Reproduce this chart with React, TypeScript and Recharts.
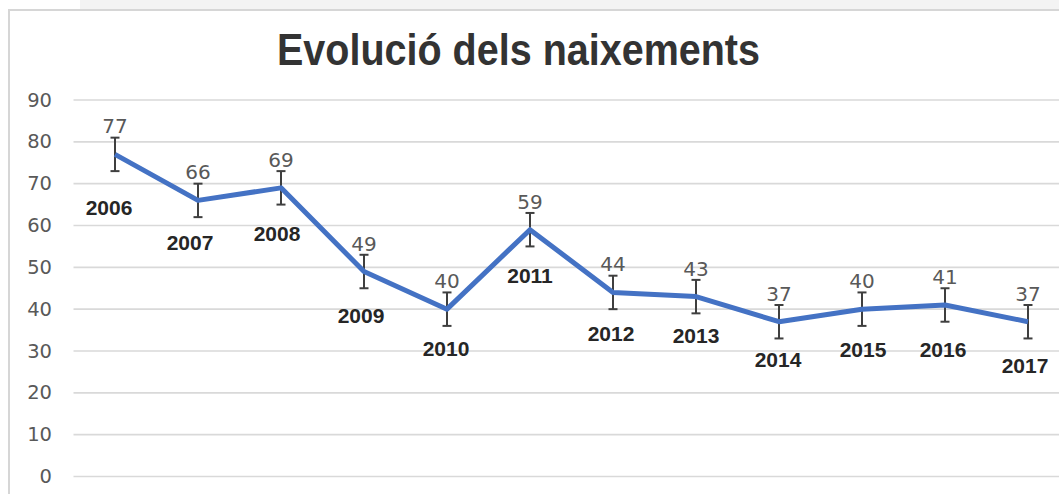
import React from "react";
import { LineChart, Line, XAxis, YAxis, CartesianGrid, ErrorBar, LabelList } from "recharts";

const years = ["2006", "2007", "2008", "2009", "2010", "2011", "2012", "2013", "2014", "2015", "2016", "2017"];
const births = [77, 66, 69, 49, 40, 59, 44, 43, 37, 40, 41, 37];
const errors = [4, 4, 4, 4, 4, 4, 4, 4, 4, 4, 4, 4];
const yTicks = [0, 10, 20, 30, 40, 50, 60, 70, 80, 90];

// layout-only offsets for the year labels (relative to each point)
const yearDx = [-6, -8, -4, -3, -1, 0, -2, 0, -1, 1, -2, -3];
const yearDy = [53, 42, 46, 44, 39, 46, 41, 39, 38, 40, 45, 44];

const data = years.map((y, i) => ({ year: y, value: births[i], err: errors[i] }));

const ValueLabel = (props: any) => {
  const { x, y, value } = props;
  return (
    <text x={x} y={y - 28} textAnchor="middle" dominantBaseline="central"
      fontFamily="DejaVu Sans" fontSize={20} fill="#595959">{value}</text>
  );
};

const YearLabel = (props: any) => {
  const { x, y, value, index } = props;
  return (
    <text x={x + yearDx[index]} y={y + yearDy[index]} textAnchor="middle" dominantBaseline="central"
      fontFamily="Liberation Sans, Arial, sans-serif" fontWeight="bold" fontSize={21} fill="#262626">{value}</text>
  );
};

const YTick = (props: any) => {
  const { x, y, payload } = props;
  return (
    <text x={x} y={y} textAnchor="end" dominantBaseline="central"
      fontFamily="DejaVu Sans" fontSize={19.5} fill="#595959">{payload.value}</text>
  );
};

export default function App() {
  return (
    <div style={{ position: "absolute", left: 0, top: 0, width: 1059, height: 494, overflow: "hidden", background: "#fff" }}>
      <div style={{ position: "absolute", left: 80, top: 0, width: 979, height: 9, background: "#f3f3f3" }} />
      <div style={{ position: "absolute", left: 8, top: 9, width: 1100, height: 500, borderLeft: "2px solid #d6d6d6", borderTop: "2px solid #d6d6d6", background: "#fff" }} />
      <div style={{ position: "absolute", left: 0, top: 0 }}>
        <LineChart width={1080} height={494} data={data} margin={{ top: 100, right: 10.5, bottom: 17.5, left: 0 }}>
          <CartesianGrid vertical={false} stroke="#d9d9d9" strokeWidth={1.6} />
          <XAxis dataKey="year" hide padding={{ left: 41.5, right: 41.5 }} />
          <YAxis width={73.5} domain={[0, 90]} ticks={yTicks} axisLine={false} tickLine={false}
            tickSize={0} tickMargin={21.5} tick={<YTick />} interval={0} />
          <Line dataKey="value" stroke="#4472C4" strokeWidth={5} dot={false} activeDot={false}
            strokeLinejoin="round" isAnimationActive={false}>
            <ErrorBar dataKey="err" direction="y" width={4.5} strokeWidth={2} stroke="#3f3f3f" />
            <LabelList dataKey="value" content={<ValueLabel />} />
            <LabelList dataKey="year" content={<YearLabel />} />
          </Line>
        </LineChart>
      </div>
      <svg style={{ position: "absolute", left: 0, top: 0 }} width={1059} height={90}>
        <text x={518.5} y={65} textAnchor="middle" textLength={483} lengthAdjust="spacingAndGlyphs"
          fontFamily="Liberation Sans, Arial, sans-serif" fontWeight="bold" fontSize={44} fill="#333333">
          Evolució dels naixements
        </text>
      </svg>
    </div>
  );
}
